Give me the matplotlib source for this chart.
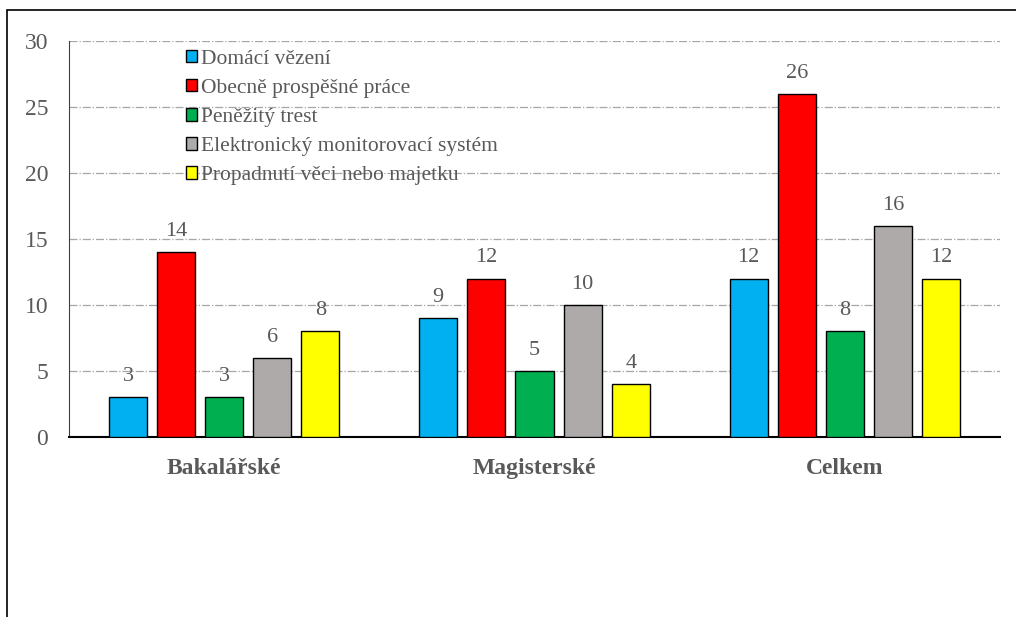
import matplotlib.pyplot as plt
import numpy as np
from matplotlib.patches import Patch, Rectangle

categories = ['Bakalářské', 'Magisterské', 'Celkem']
series = ['Domácí vězení', 'Obecně prospěšné práce', 'Peněžitý trest',
          'Elektronický monitorovací systém', 'Propadnutí věci nebo majetku']
values = [
    [3, 9, 12],
    [14, 12, 26],
    [3, 5, 8],
    [6, 10, 16],
    [8, 4, 12],
]
colors = ['#00B0F0', '#FF0000', '#00B050', '#AEAAAA', '#FFFF00']

plt.rcParams['font.family'] = ['Liberation Serif', 'DejaVu Serif']
txt = '#595959'

fig = plt.figure(figsize=(10.16, 6.17), dpi=100)
fig.patches.append(Rectangle((7 / 1016, -0.1), 1.2, (607 / 617) + 0.1,
                             transform=fig.transFigure, fill=False,
                             edgecolor='black', linewidth=1.2))
ax = fig.add_axes([69 / 1016, 180 / 617, 931 / 1016, 396 / 617])

x = np.arange(len(categories))
width = 0.1225
step = 0.155
for i, (name, vals, c) in enumerate(zip(series, values, colors)):
    pos = x + (i - 2) * step
    ax.bar(pos, vals, width, color=c, edgecolor='black', linewidth=1, zorder=3)
    for p, v in zip(pos, vals):
        ax.annotate(str(v), (p, v), xytext=(0, 8), textcoords='offset points',
                    ha='center', va='bottom', fontsize=16, color=txt)

ax.set_xlim(-0.5, 2.5)
ax.set_ylim(0, 30)
ax.set_yticks(range(0, 31, 5))
ax.yaxis.grid(True, linestyle='-.', color='#A6A6A6', linewidth=0.9, zorder=0)
ax.set_xticks(x)
ax.set_xticklabels(categories, fontsize=17, fontweight='bold', color=txt)
ax.tick_params(axis='y', length=0, labelsize=17, labelcolor=txt, pad=15)
ax.tick_params(axis='x', length=0, pad=15)
for s in ['top', 'right']:
    ax.spines[s].set_visible(False)
ax.spines['left'].set_color('#404040')
ax.spines['bottom'].set_color('black')
ax.spines['bottom'].set_linewidth(1.5)

handles = [Patch(facecolor=c, edgecolor='black', label=n) for n, c in zip(series, colors)]
ax.legend(handles=handles, loc='upper left', bbox_to_anchor=(0.114, 1.005),
          frameon=False, fontsize=15.5, handlelength=0.5, handleheight=0.5,
          handletextpad=0.2, labelspacing=0.47, labelcolor=txt, borderpad=0)

fig.savefig('out.png', dpi=100)
